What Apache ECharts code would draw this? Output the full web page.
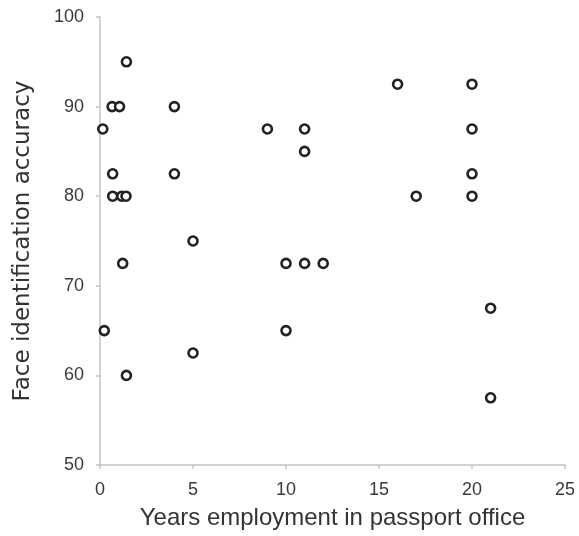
<!DOCTYPE html>
<html>
<head>
<meta charset="utf-8">
<script src="https://cdn.jsdelivr.net/npm/echarts@6/dist/echarts.min.js"></script>
<style>html,body{margin:0;padding:0;background:#fff;}#c{width:579px;height:536px;}</style>
</head>
<body>
<div id="c"></div>
<script>
// Years employment in passport office
const years = [0.15, 0.23, 0.65, 1.05, 0.68, 0.68, 1.17, 1.4, 1.42, 1.22, 1.42,
  4, 4, 5, 5, 9, 10, 10, 11, 11, 11, 12, 16, 17, 20, 20, 20, 20, 21, 21];
// Face identification accuracy
const accuracy = [87.5, 65, 90, 90, 82.5, 80, 80, 80, 95, 72.5, 60,
  90, 82.5, 75, 62.5, 87.5, 72.5, 65, 87.5, 85, 72.5, 72.5, 92.5, 80, 92.5, 87.5, 82.5, 80, 67.5, 57.5];
const xTicks = [0, 5, 10, 15, 20, 25];
const yTicks = [50, 60, 70, 80, 90, 100];
const xTitle = 'Years employment in passport office';
const yTitle = 'Face identification accuracy';

const points = years.map((x, i) => [x, accuracy[i]]);
const chart = echarts.init(document.getElementById('c'), null, {renderer: 'canvas'});
const font = 'Liberation Sans, Arial, sans-serif';
const axisCommon = {
  axisLine: {show: true, lineStyle: {color: '#c4c4c4', width: 1.5}},
  axisTick: {show: true, length: 4, lineStyle: {color: '#c4c4c4', width: 1.5}},
  splitLine: {show: false}
};
chart.setOption({
  animation: false,
  backgroundColor: '#fff',
  grid: {left: 100, right: 14, top: 17, bottom: 71},
  xAxis: Object.assign({}, axisCommon, {
    type: 'value', min: xTicks[0], max: xTicks[xTicks.length - 1], interval: 5,
    name: xTitle, nameLocation: 'middle', nameGap: 41,
    nameTextStyle: {color: '#333', fontSize: 24, fontFamily: font},
    axisLabel: {color: '#3a3a3a', fontSize: 18, fontFamily: font, margin: 16}
  }),
  yAxis: Object.assign({}, axisCommon, {
    type: 'value', min: yTicks[0], max: yTicks[yTicks.length - 1], interval: 10,
    name: yTitle, nameLocation: 'middle', nameGap: 65, nameRotate: 90,
    nameTextStyle: {color: '#333', fontSize: 23, fontFamily: 'DejaVu Sans, sans-serif'},
    axisLabel: {color: '#3a3a3a', fontSize: 18, fontFamily: font, margin: 16}
  }),
  series: [{
    type: 'scatter',
    data: points,
    symbol: 'circle',
    symbolSize: 9,
    itemStyle: {color: '#ffffff', borderColor: '#222', borderWidth: 2.6, opacity: 1}
  }]
});
</script>
</body>
</html>
